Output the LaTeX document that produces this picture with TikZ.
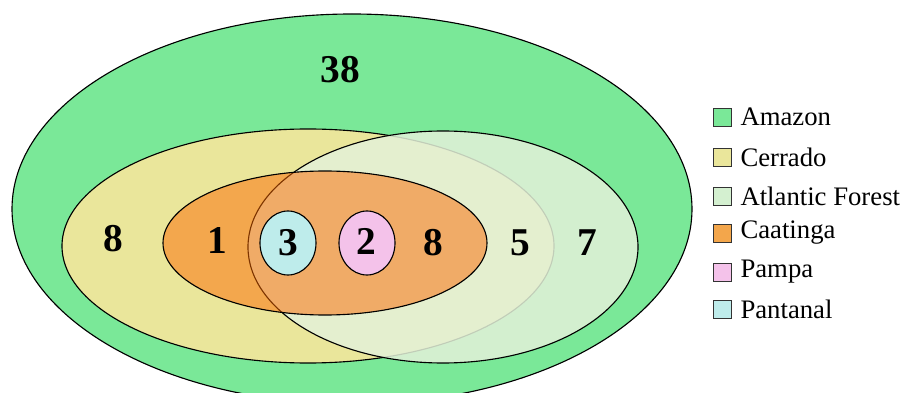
\documentclass[tikz,border=0pt]{standalone}
\usepackage{fontspec}
\setmainfont{Liberation Serif}
\definecolor{amazongreen}{RGB}{122, 232, 152}
\definecolor{cerradoyellow}{RGB}{234, 230, 155}
\definecolor{atlanticgreen}{RGB}{227, 241, 217}
\definecolor{caatingaorange}{RGB}{252, 105, 0}
\definecolor{pampapink}{RGB}{244, 194, 234}
\definecolor{pantanalcyan}{RGB}{190, 236, 235}

\begin{document}
\begin{tikzpicture}[x=0.025cm, y=-0.025cm,
    biome/.style={draw=black, line width=0.8pt},
    count/.style={font=\fontsize{28}{30}\selectfont\bfseries, inner sep=0pt},
    key/.style={draw=black!80, line width=0.6pt, minimum size=0.45cm, inner sep=0pt},
    keytext/.style={font=\fontsize{19}{21}\selectfont, anchor=west, inner sep=0pt}]
    \useasboundingbox (0,0) rectangle (902,393);
    \begin{scope}
        \clip (0,0) rectangle (902,393);
        % biomes
        \draw[biome, fill=amazongreen] (352,209) ellipse [x radius=340, y radius=195];
        \draw[biome, fill=cerradoyellow] (308,246) ellipse [x radius=246, y radius=117];
        \draw[biome, fill=atlanticgreen, fill opacity=0.85] (443,247) ellipse [x radius=195, y radius=116];
        \draw[biome, fill=caatingaorange, fill opacity=0.5] (325,243) ellipse [x radius=162, y radius=72];
        \draw[biome, fill=pantanalcyan] (288,243) ellipse [x radius=28, y radius=32];
        \draw[biome, fill=pampapink] (367,243) ellipse [x radius=28, y radius=32];
    \end{scope}
    % counts
    \node[count] (nAmazon) at (340,70) {38};
    \node[count] (nCerrado) at (113,239) {8};
    \node[count] (nCaatinga) at (217,241) {1};
    \node[count] (nPantanal) at (288,243) {3};
    \node[count] (nPampa) at (366,241) {2};
    \node[count] (nCore) at (433,243) {8};
    \node[count] (nMixed) at (520,243) {5};
    \node[count] (nAtlantic) at (587,243) {7};
    % legend
    \node[key, fill=amazongreen] (kAmazon) at (722,117) {};
    \node[key, fill=cerradoyellow] (kCerrado) at (722,157) {};
    \node[key, fill={rgb,255:red,212;green,240;blue,208}] (kAtlantic) at (722,196) {};
    \node[key, fill={rgb,255:red,243;green,166;blue,75}] (kCaatinga) at (722,233) {};
    \node[key, fill=pampapink] (kPampa) at (722,272) {};
    \node[key, fill=pantanalcyan] (kPantanal) at (722,309) {};
    \node[keytext] at ([xshift=0.22cm]kAmazon.east) {Amazon};
    \node[keytext] at ([xshift=0.22cm]kCerrado.east) {Cerrado};
    \node[keytext] at ([xshift=0.22cm]kAtlantic.east) {Atlantic Forest};
    \node[keytext] at ([xshift=0.22cm]kCaatinga.east) {Caatinga};
    \node[keytext] at ([xshift=0.22cm]kPampa.east) {Pampa};
    \node[keytext] at ([xshift=0.22cm]kPantanal.east) {Pantanal};
\end{tikzpicture}
\end{document}
